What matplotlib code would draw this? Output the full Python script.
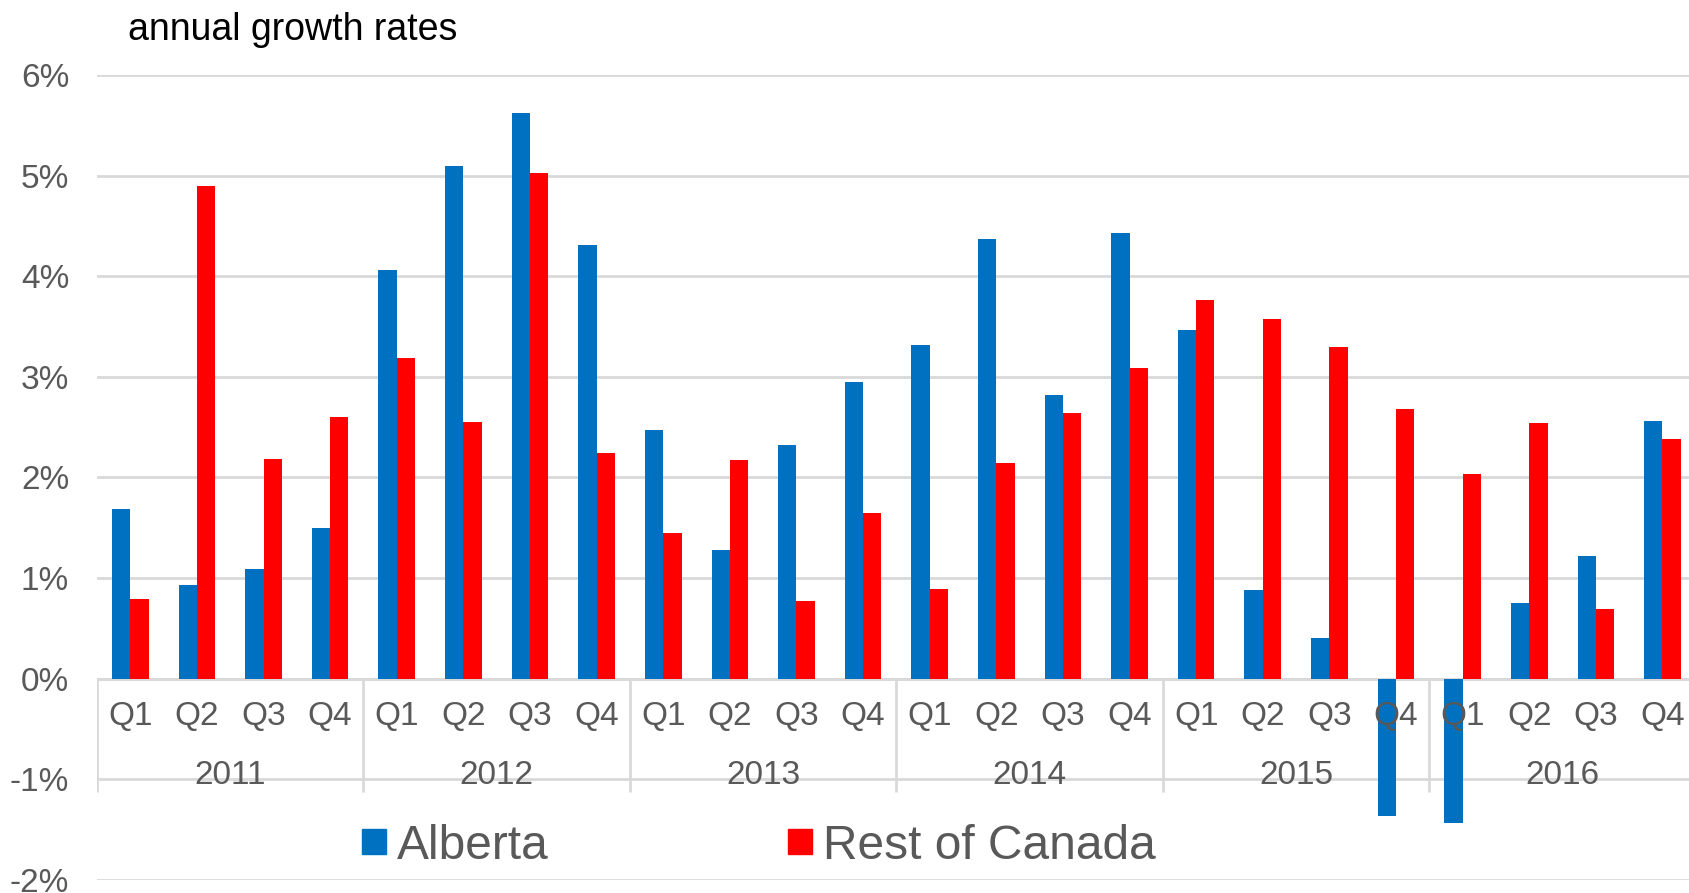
import matplotlib.pyplot as plt
from matplotlib.patches import Patch
import numpy as np

plt.rcParams['font.family'] = ['Liberation Sans', 'DejaVu Sans']

years = ['2011', '2012', '2013', '2014', '2015', '2016']
quarters = ['Q1', 'Q2', 'Q3', 'Q4']

alberta = [1.69, 0.93, 1.09, 1.50,
           4.06, 5.10, 5.62, 4.31,
           2.47, 1.28, 2.32, 2.95,
           3.32, 4.37, 2.82, 4.43,
           3.47, 0.88, 0.40, -1.36,
           -1.43, 0.75, 1.22, 2.56]
rest_of_canada = [0.79, 4.90, 2.18, 2.60,
                  3.19, 2.55, 5.03, 2.24,
                  1.45, 2.17, 0.77, 1.65,
                  0.89, 2.14, 2.64, 3.09,
                  3.76, 3.58, 3.30, 2.68,
                  2.03, 2.54, 0.69, 2.38]

yticks = [-2, -1, 0, 1, 2, 3, 4, 5, 6]
ytick_labels = ['-2%', '-1%', '0%', '1%', '2%', '3%', '4%', '5%', '6%']

BLUE = '#0070C0'
RED = '#FF0000'
GRID = '#D9D9D9'
TXT = '#595959'

fig = plt.figure(figsize=(16.9, 8.93), dpi=100)
ax = fig.add_axes([0.0574, 0.0146, 0.946, 0.9014])

x = np.arange(len(alberta))
w = 0.275
ax.bar(x - w / 2, alberta, w, color=BLUE, zorder=2)
ax.bar(x + w / 2, rest_of_canada, w, color=RED, zorder=2)

ax.set_xlim(-0.5, len(alberta) - 0.5)
ax.set_ylim(-2, 6)
ax.set_yticks(yticks)
ax.set_yticklabels(ytick_labels)
ax.tick_params(axis='y', length=0, pad=20, labelsize=24, labelcolor=TXT)
ax.set_xticks([])
ax.grid(axis='y', color=GRID, lw=2)
ax.set_axisbelow(True)
for s in ax.spines.values():
    s.set_visible(False)
ax.axhline(0, color=GRID, lw=2, zorder=1)

# category axis: quarters and years under the zero line
for i in range(len(alberta)):
    ax.text(i, -0.38, quarters[i % 4], ha='center', va='center',
            fontsize=24, color=TXT, zorder=3)
for j, yr in enumerate(years):
    ax.text(j * 4 + 1.5, -0.96, yr, ha='center', va='center',
            fontsize=24, color=TXT, zorder=3)
ax.vlines(np.arange(len(years) + 1) * 4 - 0.5, -1.13, 0, color=GRID, lw=2, zorder=1)

fig.text(0.076, 0.966, 'annual growth rates', fontsize=27, color='black',
         ha='left', va='center')

handles = [Patch(color=BLUE, label='Alberta'), Patch(color=RED, label='Rest of Canada')]
fig.legend(handles=handles, loc='center', bbox_to_anchor=(0.449, 0.0526), ncol=2,
           frameon=False, fontsize=34.5, labelcolor=TXT, handlelength=0.5,
           handleheight=0.45, handletextpad=0.23, columnspacing=5.0, borderpad=0)

fig.savefig('out.png', dpi=100)
